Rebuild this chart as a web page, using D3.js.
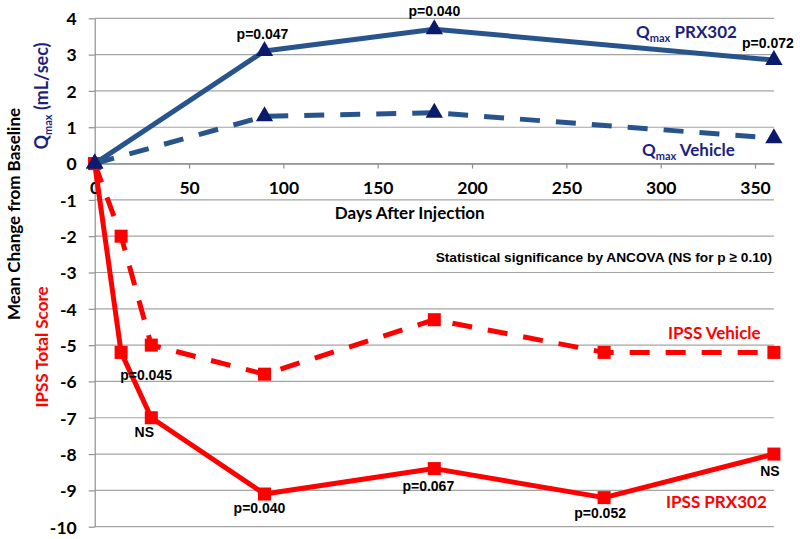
<!DOCTYPE html>
<html>
<head>
<meta charset="utf-8">
<script src="https://cdn.jsdelivr.net/npm/d3@7"></script>
<style>
  html, body { margin: 0; padding: 0; background: #fff; }
  svg { display: block; }
</style>
</head>
<body>
<svg id="chart" width="800" height="539"></svg>
<script>
// ---------------- DATA ----------------
const qmaxDays = [0, 90, 180, 360];
const qmaxPRX302 = [0, 3.1, 3.7, 2.85];
const qmaxVehicle = [0, 1.3, 1.4, 0.7];
const qmaxPLabels = ["", "p=0.047", "p=0.040", "p=0.072"];

const ipssDays = [0, 14, 30, 90, 180, 270, 360];
const ipssPRX302 = [0, -5.2, -7.0, -9.1, -8.4, -9.2, -8.0];
const ipssVehicle = [0, -2.0, -5.0, -5.8, -4.3, -5.2, -5.2];
const ipssPLabels = ["", "p=0.045", "NS", "p=0.040", "p=0.067", "p=0.052", "NS"];

const xTicks = [0, 50, 100, 150, 200, 250, 300, 350];
const yTicks = [-10, -9, -8, -7, -6, -5, -4, -3, -2, -1, 0, 1, 2, 3, 4];

const xTitle = "Days After Injection";
const yTitle = "Mean Change from Baseline";
const noteText = "Statistical significance by ANCOVA (NS for p \u2265 0.10)";

// ---------------- LAYOUT ----------------
const svg = d3.select("#chart");
const x = d3.scaleLinear().domain([0, 360]).range([94.7, 773.9]);
const y = d3.scaleLinear().domain([-10, 4]).range([526.7, 18.3]);

const calibri = "Lato, 'Open Sans', sans-serif";
const arial = "'Liberation Sans', Arial, sans-serif";
const navyText = "#1c1f7e";
const qLine = "#28548e";
const qMarker = "#0c1a6c";
const red = "#ff0000";
const grid = "#a3a3a3";

// gridlines
svg.append("g").selectAll("line").data(yTicks).join("line")
  .attr("x1", x(0)).attr("x2", x(360))
  .attr("y1", d => y(d)).attr("y2", d => y(d))
  .attr("stroke", grid).attr("stroke-width", 1.2);

// y axis
const yAxis = svg.append("g").attr("transform", `translate(${x(0)},0)`)
  .call(d3.axisLeft(y).tickValues(yTicks).tickSize(6).tickSizeOuter(0).tickFormat(d3.format("d")));
yAxis.select(".domain").attr("stroke", "#8f8f8f").attr("stroke-width", 1.2);
yAxis.selectAll(".tick line").attr("stroke", "#8f8f8f").attr("stroke-width", 1.2);
yAxis.selectAll(".tick text")
  .attr("x", -18).attr("dy", "0.36em")
  .attr("font-family", calibri).attr("font-weight", "bold").attr("font-size", 17.5).attr("fill", "#000")
  .text(d => d < 0 ? "-" + Math.abs(d) : d);

// x axis at y = 0
const xAxis = svg.append("g").attr("transform", `translate(0,${y(0)})`)
  .call(d3.axisBottom(x).tickValues(xTicks).tickSize(5).tickSizeOuter(0));
xAxis.select(".domain").attr("stroke", "#8f8f8f").attr("stroke-width", 1.2);
xAxis.selectAll(".tick line").attr("stroke", "#8f8f8f").attr("stroke-width", 1.2);
xAxis.selectAll(".tick text")
  .attr("y", 24).attr("dy", "0.36em")
  .attr("font-family", calibri).attr("font-weight", "bold").attr("font-size", 17.5).attr("fill", "#000");

// x title
svg.append("text").attr("x", x(167)).attr("y", 213).attr("dy", "0.36em")
  .attr("text-anchor", "middle")
  .attr("font-family", calibri).attr("font-weight", "bold").attr("font-size", 17).attr("fill", "#000")
  .text(xTitle);

// y titles
svg.append("text").attr("transform", "translate(14,214) rotate(-90)").attr("dy", "0.36em")
  .attr("text-anchor", "middle")
  .attr("font-family", calibri).attr("font-weight", "bold").attr("font-size", 17).attr("fill", "#000")
  .text(yTitle);

const qTitle = svg.append("text").attr("transform", "translate(42,96) rotate(-90)").attr("dy", "0.36em")
  .attr("text-anchor", "middle")
  .attr("font-family", calibri).attr("font-weight", "bold").attr("font-size", 18).attr("fill", navyText);
qTitle.append("tspan").text("Q");
qTitle.append("tspan").attr("font-size", 11).attr("dy", 4).text("max");
qTitle.append("tspan").attr("dy", -4).text(" (mL/sec)");

svg.append("text").attr("transform", "translate(42,347) rotate(-90)").attr("dy", "0.36em")
  .attr("text-anchor", "middle")
  .attr("font-family", calibri).attr("font-weight", "bold").attr("font-size", 17).attr("fill", red)
  .text("IPSS Total Score");

// note
svg.append("text").attr("x", 772).attr("y", 257).attr("dy", "0.36em")
  .attr("text-anchor", "end")
  .attr("font-family", arial).attr("font-weight", "bold").attr("font-size", 13.7).attr("fill", "#000")
  .text(noteText);

// ---------------- SERIES ----------------
const line = d3.line().x(d => x(d[0])).y(d => y(d[1]));
function zip(a, b) { return a.map((v, i) => [v, b[i]]); }

function drawSeries(days, vals, color, markerColor, dashed, marker) {
  const pts = zip(days, vals);
  svg.append("path").datum(pts)
    .attr("d", line)
    .attr("fill", "none").attr("stroke", color).attr("stroke-width", 5)
    .attr("stroke-linejoin", "round")
    .attr("stroke-dasharray", dashed ? "20,16" : null);
  const sym = marker === "square" ? d3.symbol().type(d3.symbolSquare).size(170)
                                  : d3.symbol().type(d3.symbolTriangle).size(130);
  svg.append("g").selectAll("path").data(pts).join("path")
    .attr("d", sym)
    .attr("transform", d => `translate(${x(d[0])},${y(d[1])})`)
    .attr("fill", markerColor);
}

drawSeries(ipssDays, ipssVehicle, red, red, true, "square");
drawSeries(ipssDays, ipssPRX302, red, red, false, "square");
drawSeries(qmaxDays, qmaxVehicle, qLine, qMarker, true, "triangle");
drawSeries(qmaxDays, qmaxPRX302, qLine, qMarker, false, "triangle");

// p-value labels (offsets from their points)
const qOffsets = [[0, 0], [-2, -17], [0, -18], [-6, -17]];
svg.append("g").selectAll("text").data(qmaxPLabels.map((t, i) => ({t, i}))).join("text")
  .filter(d => d.t)
  .attr("x", d => x(qmaxDays[d.i]) + qOffsets[d.i][0])
  .attr("y", d => y(qmaxPRX302[d.i]) + qOffsets[d.i][1])
  .attr("dy", "0.36em").attr("text-anchor", "middle")
  .attr("font-family", arial).attr("font-weight", "bold").attr("font-size", 14).attr("fill", "#000")
  .text(d => d.t);

const iOffsets = [[0, 0], [25, 23], [-7, 14], [-5, 14], [-6, 17], [-4, 15], [-4, 17]];
svg.append("g").selectAll("text").data(ipssPLabels.map((t, i) => ({t, i}))).join("text")
  .filter(d => d.t)
  .attr("x", d => x(ipssDays[d.i]) + iOffsets[d.i][0])
  .attr("y", d => y(ipssPRX302[d.i]) + iOffsets[d.i][1])
  .attr("dy", "0.36em").attr("text-anchor", "middle")
  .attr("font-family", arial).attr("font-weight", "bold").attr("font-size", 14).attr("fill", "#000")
  .text(d => d.t);

// series name labels
function seriesLabel(xp, yp, color, parts) {
  const t = svg.append("text").attr("x", xp).attr("y", yp).attr("dy", "0.36em")
    .attr("font-family", calibri).attr("font-weight", "bold").attr("font-size", 17).attr("fill", color);
  parts.forEach(p => {
    const s = t.append("tspan").text(p.text);
    if (p.size) s.attr("font-size", p.size);
    if (p.dy) s.attr("dy", p.dy);
  });
}
seriesLabel(636, 32, navyText, [{text: "Q"}, {text: "max", size: 11, dy: 4}, {text: " PRX302", dy: -4}]);
seriesLabel(642, 150, navyText, [{text: "Q"}, {text: "max", size: 11, dy: 4}, {text: " Vehicle", dy: -4}]);
seriesLabel(668, 333, red, [{text: "IPSS Vehicle"}]);
seriesLabel(666, 502, red, [{text: "IPSS PRX302"}]);
</script>
</body>
</html>
